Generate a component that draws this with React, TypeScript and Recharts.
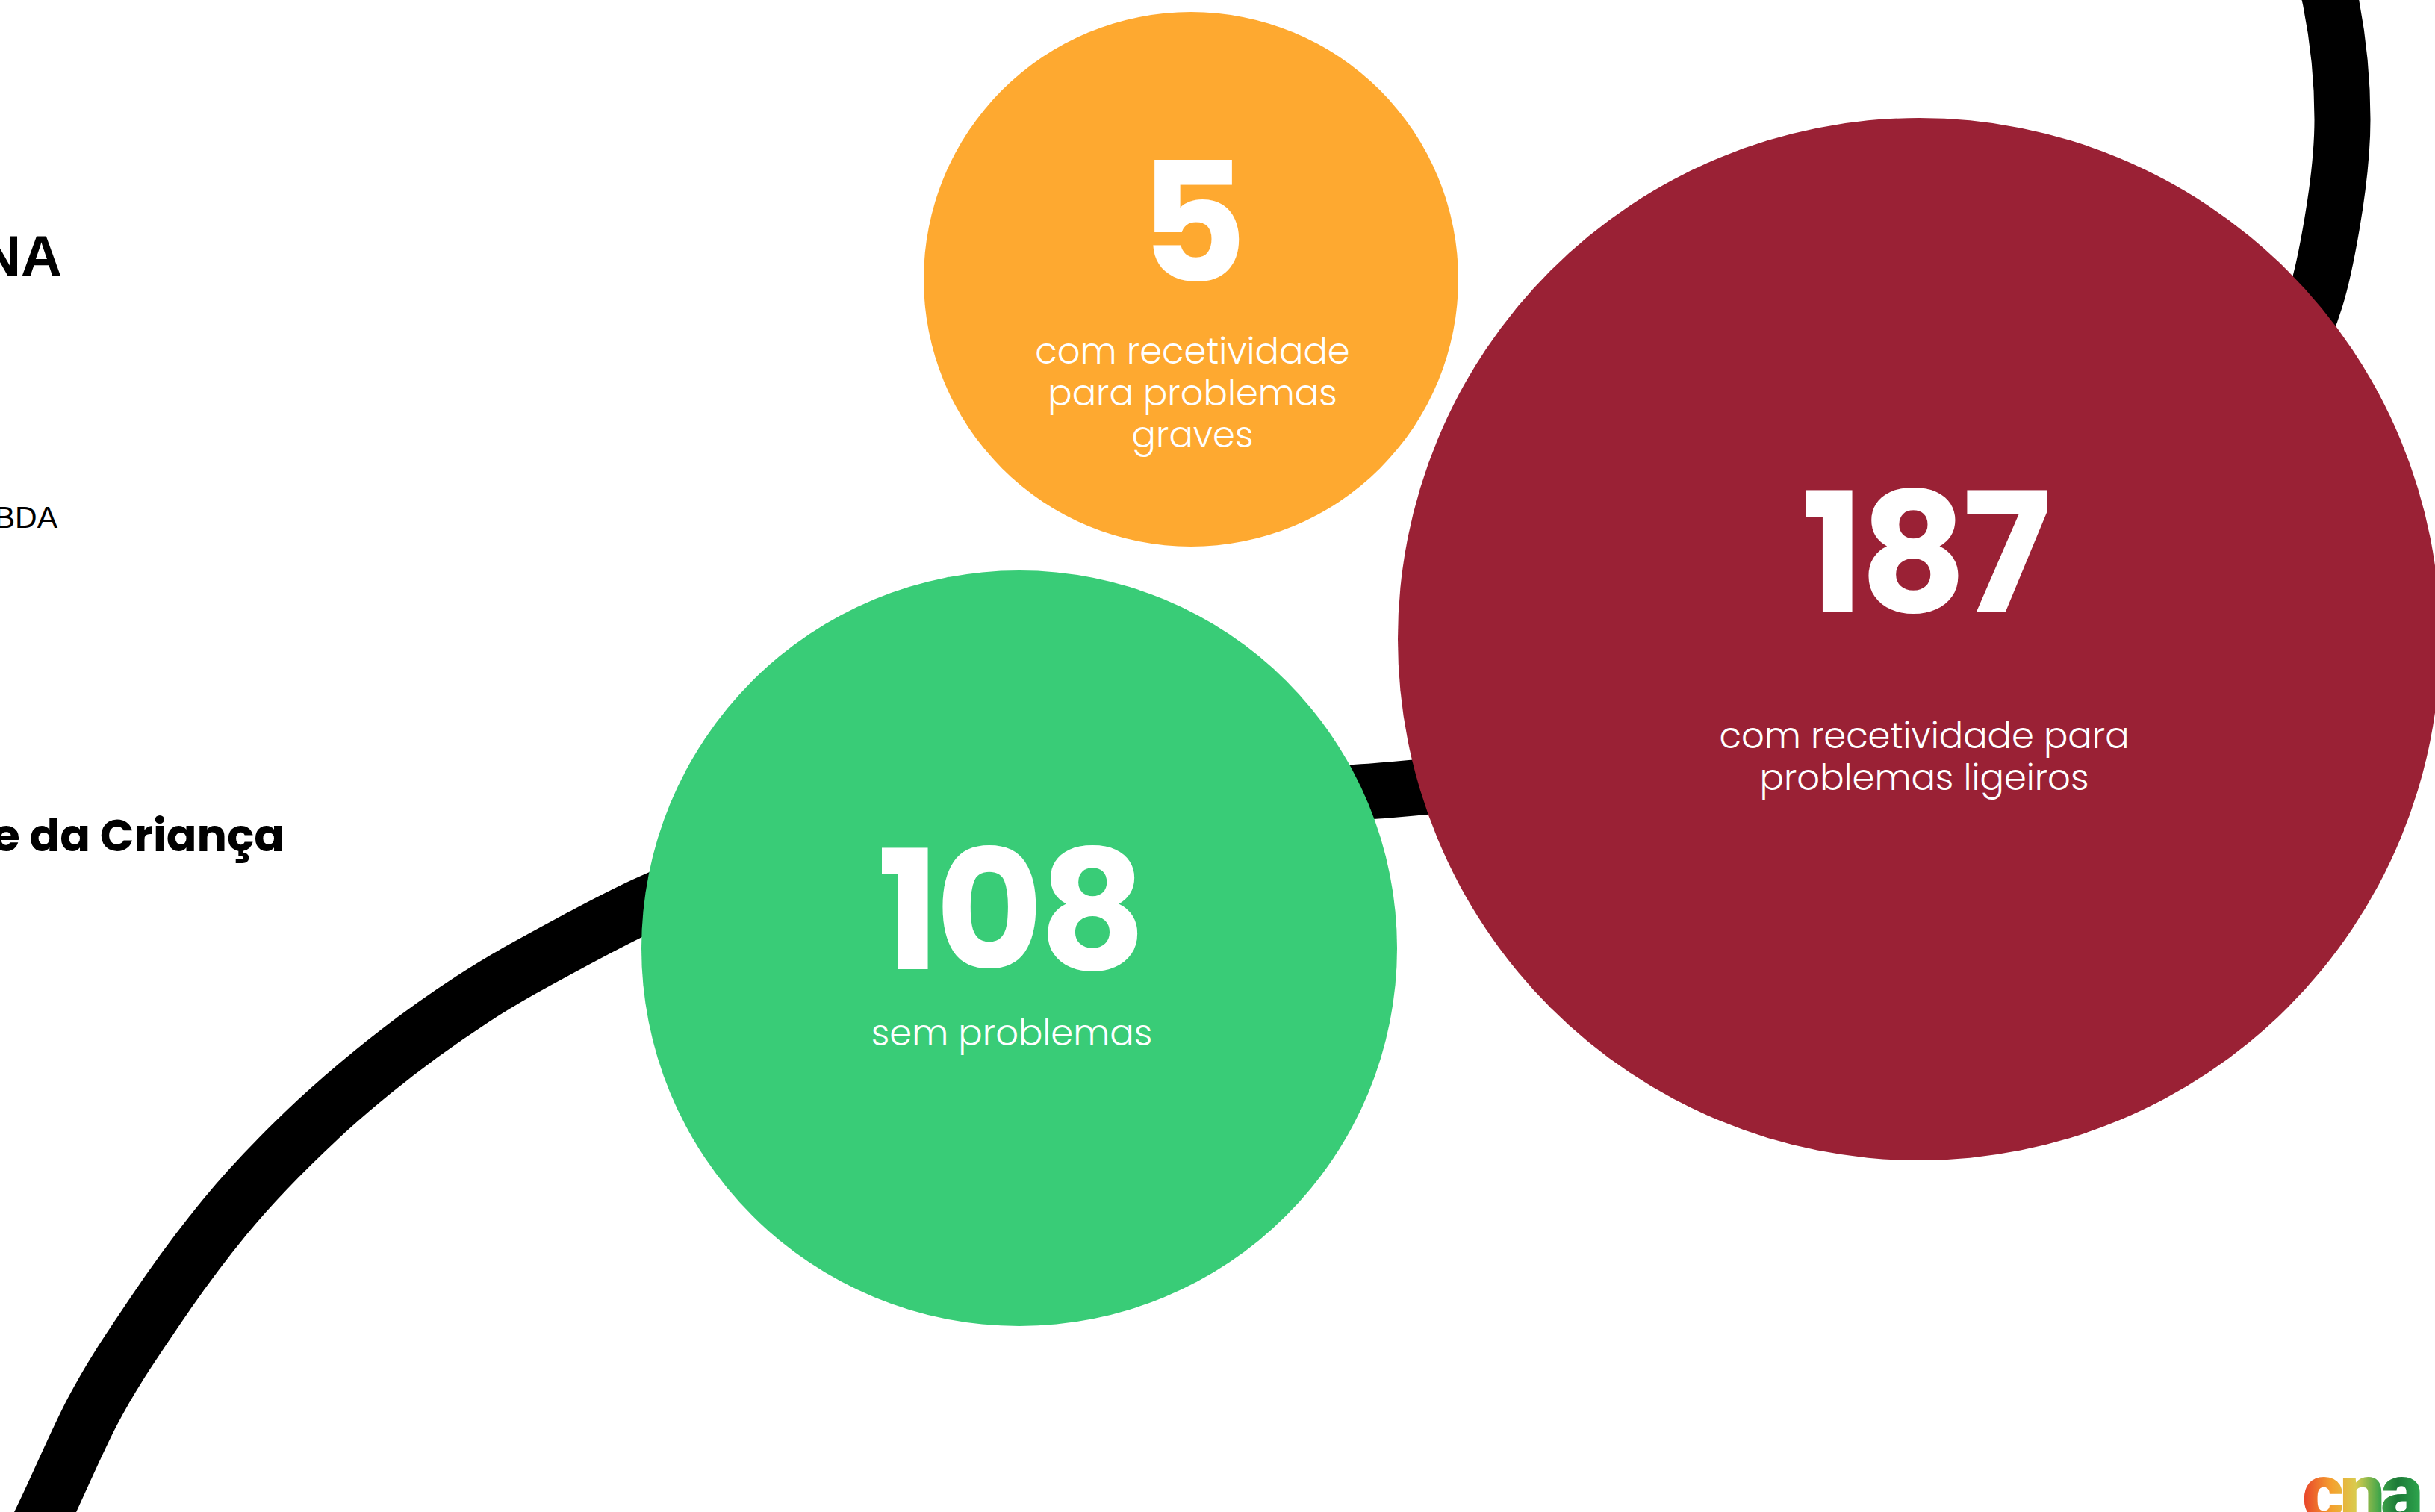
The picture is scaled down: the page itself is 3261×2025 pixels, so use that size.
import React from 'react';
import { ComposedChart, Scatter, Line, XAxis, YAxis, ZAxis, Customized } from 'recharts';

const W = 3261;
const H = 2025;

// ---- data ----
const categories = [
  'com recetividade para problemas graves',
  'sem problemas',
  'com recetividade para problemas ligeiros',
];
const counts = [5, 108, 187];
const labelLines = [
  ['com recetividade', 'para problemas', 'graves'],
  ['sem problemas'],
  ['com recetividade para', 'problemas ligeiros'],
];
// bubble layout (chart units)
const bubbleX = [1595, 1365, 2570];
const bubbleY = [374, 1270, 856];
const bubbleR = [358, 506, 698];
const bubbleColors = ['#FEA930', '#39CC77', '#9A2135'];

// decorative connecting stroke (chart units): lower sweep (x increasing)
const sweepX = [20, 63, 124, 205, 301, 425, 500, 633, 767, 863, 1100, 1400, 1650, 1860, 2100, 2400, 2700, 2900, 3000, 3070];
const sweepY = [2110, 2020, 1890, 1760, 1630, 1500, 1435, 1338, 1261, 1212, 1130, 1088, 1070, 1058, 1030, 960, 840, 700, 600, 480];
// upper hook (y increasing)
const hookX = [3080, 3121, 3137, 3123, 3101, 3070, 3035];
const hookY = [-100, 0, 160, 300, 400, 480, 550];

// side texts (cut by the frame)
const sideTexts = ['NA', 'BDA', 'e da Criança'];

// ---- layout / styles ----
const labelLayout = [
  { numDx: 0, numDy: 3, txtDx: 2, txtDy: 113 },
  { numDx: -13, numDy: 28, txtDx: -10, txtDy: 130 },
  { numDx: 7, numDy: -37, txtDx: 7, txtDy: 146 },
];
const LINE_GAP = 56;
const NUM_FONT = 'Poppins, Roboto, "Liberation Sans", sans-serif';
const TXT_FONT = 'Poppins, Roboto, "Open Sans", sans-serif';

const bubbles = counts.map((v, i) => ({
  x: bubbleX[i],
  y: bubbleY[i],
  z: Math.PI * bubbleR[i] * bubbleR[i],
  value: v,
  name: categories[i],
  idx: i,
}));
const maxZ = Math.max(...bubbles.map((b) => b.z));

const sweepData = sweepX.map((x, i) => ({ x, y: sweepY[i] }));
const hookData = hookX.map((x, i) => ({ x, y: hookY[i] }));

const BubbleShape = (props: any) => {
  const { cx, cy, width, payload } = props;
  const i = payload.idx;
  const r = width / 2;
  const L = labelLayout[i];
  return (
    <g>
      <circle cx={cx} cy={cy} r={r} fill={bubbleColors[i]} />
      <text
        x={cx + L.numDx}
        y={cy + L.numDy}
        textAnchor="middle"
        fill="#ffffff"
        fontFamily={NUM_FONT}
        fontWeight={700}
        fontSize={222}
        letterSpacing={-6}
      >
        {counts[i]}
      </text>
      {labelLines[i].map((t, k) => (
        <text
          key={k}
          x={cx + L.txtDx}
          y={cy + L.txtDy + k * LINE_GAP}
          textAnchor="middle"
          fill="#ffffff"
          fontFamily={TXT_FONT}
          fontWeight={300}
          fontSize={48}
        >
          {t}
        </text>
      ))}
    </g>
  );
};

const Decorations = () => (
  <g>
    <defs>
      <linearGradient id="cnaGrad" x1="0" y1="0" x2="1" y2="0">
        <stop offset="0%" stopColor="#E8402B" />
        <stop offset="25%" stopColor="#F4A12E" />
        <stop offset="45%" stopColor="#D9CB4E" />
        <stop offset="65%" stopColor="#3FA54A" />
        <stop offset="80%" stopColor="#1C7A37" />
        <stop offset="100%" stopColor="#2FA84F" />
      </linearGradient>
    </defs>
    <text x={83} y={369} textAnchor="end" fontFamily='"Liberation Sans", Arial, sans-serif' fontWeight={700} fontSize={76} fill="#000">
      {sideTexts[0]}
    </text>
    <text x={77} y={707} textAnchor="end" fontFamily='"Liberation Sans", Arial, sans-serif' fontWeight={400} fontSize={41} fill="#000">
      {sideTexts[1]}
    </text>
    <text x={381} y={1140} textAnchor="end" fontFamily={TXT_FONT} fontWeight={700} fontSize={60} fill="#000">
      {sideTexts[2]}
    </text>
    <text x={3083} y={2036} fontFamily='Roboto, "Liberation Sans", sans-serif' fontWeight={900} fontSize={108} letterSpacing={-6} fill="url(#cnaGrad)">
      cna
    </text>
  </g>
);

export default function App() {
  return (
    <div style={{ position: 'absolute', left: 0, top: 0, width: W, height: H, background: '#ffffff', overflow: 'hidden' }}>
      <ComposedChart width={W} height={H} margin={{ top: 0, right: 0, bottom: 0, left: 0 }}>
        <XAxis type="number" dataKey="x" domain={[0, W]} hide allowDataOverflow />
        <YAxis type="number" dataKey="y" domain={[0, H]} reversed hide allowDataOverflow />
        <ZAxis type="number" dataKey="z" domain={[0, maxZ]} range={[0, maxZ]} />
        <Line
          data={sweepData}
          dataKey="y"
          type="monotoneX"
          stroke="#000000"
          strokeWidth={75}
          dot={false}
          activeDot={false}
          isAnimationActive={false}
        />
        <Line
          data={hookData}
          dataKey="y"
          type="monotoneY"
          stroke="#000000"
          strokeWidth={75}
          dot={false}
          activeDot={false}
          isAnimationActive={false}
        />
        <Scatter data={bubbles} dataKey="y" shape={<BubbleShape />} isAnimationActive={false} />
        <Customized component={Decorations} />
      </ComposedChart>
    </div>
  );
}
